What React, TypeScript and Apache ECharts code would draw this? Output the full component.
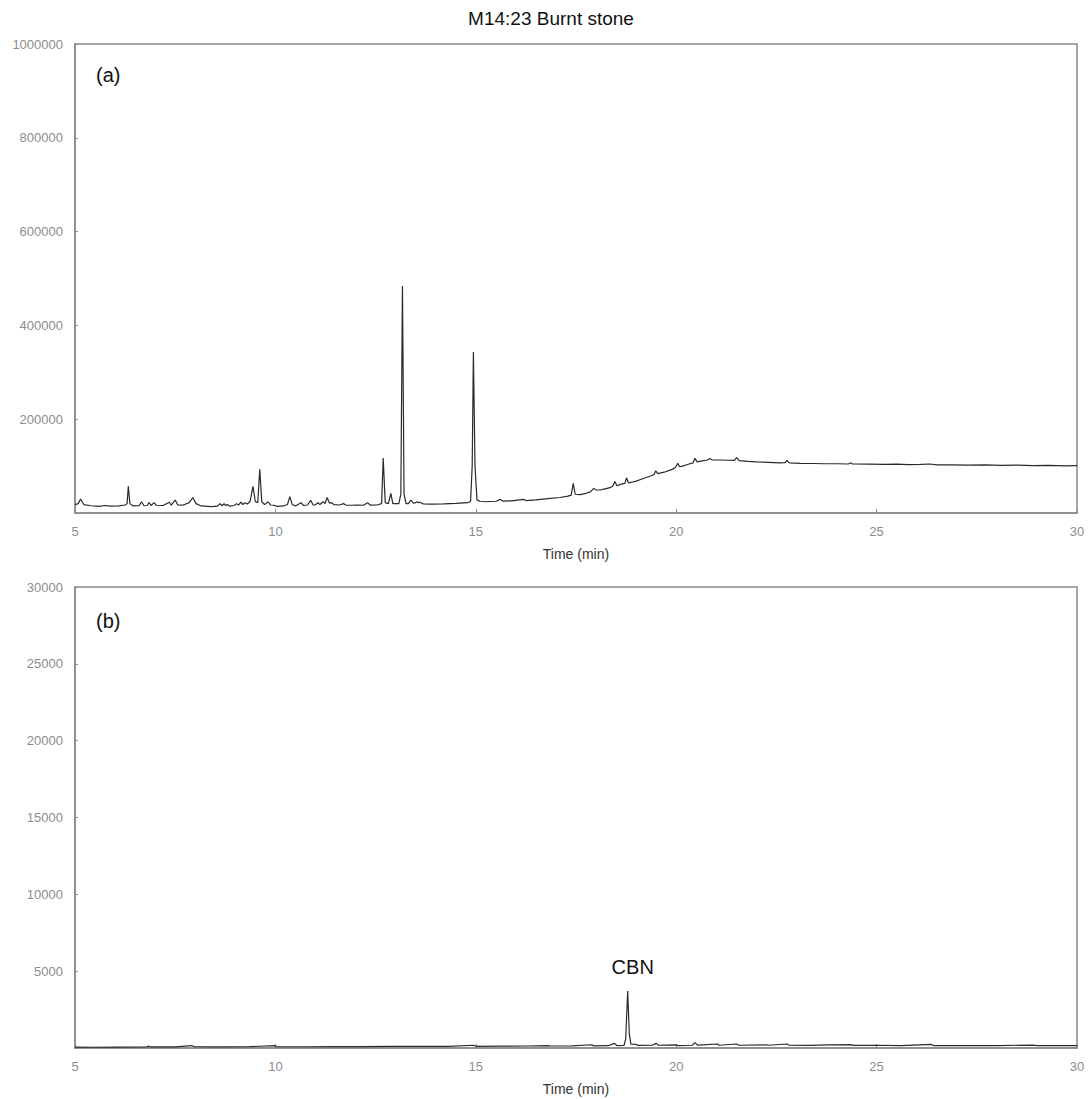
import React, { useEffect, useRef } from "react";
import * as echarts from "echarts";

// Panel (a): total ion chromatogram, retention time (min) and abundance
const TIME_A = [
  5.0, 5.08, 5.14, 5.22, 5.4, 5.6, 5.75, 5.9, 6.1, 6.25, 6.3, 6.33, 6.37, 6.45, 6.6, 6.66, 6.72, 6.8, 6.85, 6.9,
  6.97, 7.03, 7.2, 7.35, 7.4, 7.5, 7.56, 7.7, 7.85, 7.94, 8.02, 8.15, 8.4, 8.55, 8.62, 8.67, 8.72, 8.76, 8.8, 8.86,
  8.97, 9.03, 9.08, 9.14, 9.19, 9.24, 9.3, 9.37, 9.44, 9.5, 9.56, 9.61, 9.66, 9.73, 9.82, 9.88, 9.95, 10.05, 10.2, 10.3,
  10.36, 10.42, 10.5, 10.64, 10.7, 10.8, 10.88, 10.94, 11.0, 11.06, 11.11, 11.19, 11.24, 11.29, 11.35, 11.4, 11.46, 11.6, 11.7, 11.76,
  11.9, 12.05, 12.2, 12.3, 12.36, 12.55, 12.65, 12.69, 12.74, 12.82, 12.88, 12.93, 13.08, 13.13, 13.17, 13.21, 13.26, 13.32, 13.38, 13.44,
  13.5, 13.54, 13.58, 13.61, 13.68, 13.9, 14.2, 14.5, 14.8, 14.87, 14.91, 14.94, 14.98, 15.03, 15.1, 15.25, 15.5, 15.62, 15.67, 15.9,
  16.19, 16.25, 16.5, 16.8, 17.1, 17.3, 17.38, 17.43, 17.48, 17.6, 17.75, 17.81, 17.86, 17.94, 18.0, 18.1, 18.25, 18.35, 18.42, 18.47,
  18.52, 18.65, 18.72, 18.76, 18.81, 19.0, 19.2, 19.4, 19.45, 19.49, 19.54, 19.7, 19.9, 19.98, 20.04, 20.08, 20.16, 20.3, 20.42, 20.47,
  20.52, 20.65, 20.78, 20.84, 20.9, 21.1, 21.3, 21.45, 21.51, 21.57, 21.8, 22.0, 22.3, 22.6, 22.72, 22.76, 22.82, 23.1, 23.4, 23.7,
  24.0, 24.3, 24.35, 24.4, 24.8, 25.2, 25.5, 25.8, 26.1, 26.33, 26.5, 26.9, 27.3, 27.7, 28.1, 28.5, 28.9, 29.3, 29.7, 30.0,
];
const SIGNAL_A = [
  18000, 20000, 30000, 18000, 15500, 14000, 16000, 14500, 15000, 17000, 20000, 57000, 20000, 15000, 15500, 24000, 15500, 16000, 22000, 16000,
  22000, 16500, 16000, 23000, 17000, 27700, 17500, 17000, 22000, 33000, 20000, 15000, 13500, 14500, 20000, 15500, 20000, 16000, 18000, 14500,
  16000, 20000, 17000, 23000, 18000, 22000, 19000, 25000, 57000, 24000, 22000, 93000, 24000, 18000, 24000, 17000, 16500, 14000, 15000, 18000,
  35000, 18000, 15000, 22000, 16000, 17000, 27000, 17000, 17500, 22000, 18000, 24000, 20000, 33000, 21000, 22000, 18000, 17000, 20000, 16500,
  16500, 17000, 16500, 22000, 17000, 17500, 20000, 117000, 22000, 20000, 42000, 20000, 20000, 40000, 484000, 40000, 20000, 20000, 27700, 21000,
  22000, 24000, 22000, 23000, 19500, 19000, 19500, 20500, 22000, 25000, 100000, 343000, 100000, 28000, 25000, 24000, 25000, 29000, 25500, 26000,
  29000, 26500, 28000, 30500, 33000, 36000, 38000, 63000, 40000, 39000, 42000, 44000, 45000, 52500, 49000, 49000, 52000, 54000, 57500, 67000,
  58000, 62000, 63000, 75000, 64000, 68000, 74000, 80000, 82500, 90000, 84000, 87000, 93000, 97000, 106000, 99000, 100000, 104000, 107000, 116500,
  109000, 111000, 113000, 116000, 113000, 113000, 112500, 112000, 118000, 111500, 110000, 109000, 108000, 107000, 107500, 112000, 107000, 106000, 105500, 105000,
  105000, 104500, 107000, 104500, 104000, 103500, 104000, 103000, 103500, 104500, 102500, 102500, 102000, 102500, 101500, 102000, 101000, 101500, 100500, 101000,
];

// Panel (b): extracted ion chromatogram with the cannabinol (CBN) peak
const TIME_B = [
  5.0, 5.5, 6.0, 6.8, 6.83, 6.88, 7.5, 7.91, 7.98, 8.6, 9.3, 9.99, 10.05, 10.8, 11.5, 12.2, 12.9, 13.6, 14.3, 14.95,
  15.0, 15.6, 16.3, 16.8, 16.85, 17.4, 17.89, 17.94, 18.3, 18.46, 18.52, 18.7, 18.74, 18.79, 18.83, 18.87, 19.0, 19.05, 19.4, 19.5,
  19.56, 20.0, 20.04, 20.4, 20.47, 20.53, 21.03, 21.07, 21.51, 21.56, 22.25, 22.3, 22.77, 22.82, 23.3, 23.8, 24.36, 24.42, 25.0, 25.6,
  26.37, 26.42, 27.2, 28.0, 28.9, 29.0, 30.0,
];
const SIGNAL_B = [
  60, 50, 60, 70, 130, 70, 70, 160, 80, 70, 80, 150, 80, 80, 90, 90, 100, 100, 110, 180,
  110, 120, 130, 160, 130, 140, 210, 140, 150, 300, 160, 170, 600, 3700, 900, 250, 230, 170, 180, 300,
  180, 200, 160, 180, 350, 190, 260, 180, 260, 180, 200, 180, 260, 180, 170, 200, 220, 170, 180, 160,
  230, 160, 150, 160, 190, 150, 150,
];

const CBN_TIME = 18.79;
const CBN_SIGNAL = 3700;

const X_TICKS = { min: 5, max: 30, interval: 5 };
const Y_A = { min: 0, max: 1000000, interval: 200000 };
const Y_B = { min: 0, max: 30000, interval: 5000 };

const TITLE = "M14:23 Burnt stone";
const X_NAME = "Time (min)";

const pairs = (xs: number[], ys: number[]) => xs.map((x, i) => [x, ys[i]]);

const FONT = "'Liberation Sans', Arial, sans-serif";
const FRAME = "#8a8a8a";
const LABEL = "#8c8c8c";

function xAxis(gridIndex: number) {
  return {
    type: "value",
    gridIndex,
    ...X_TICKS,
    name: X_NAME,
    nameLocation: "middle",
    nameGap: 34,
    nameTextStyle: { color: "#333", fontSize: 14, fontFamily: FONT },
    axisLine: { show: true, lineStyle: { color: FRAME, width: 1.5 } },
    axisTick: { show: true, inside: true, length: 4, lineStyle: { color: FRAME } },
    axisLabel: { color: LABEL, fontSize: 13, margin: 12, fontFamily: FONT },
    splitLine: { show: false },
  };
}

function yAxis(gridIndex: number, range: { min: number; max: number; interval: number }) {
  return {
    type: "value",
    gridIndex,
    ...range,
    axisLine: { show: true, lineStyle: { color: FRAME, width: 1.5 } },
    axisTick: { show: true, inside: true, length: 3, lineStyle: { color: FRAME } },
    axisLabel: {
      color: LABEL,
      fontSize: 13,
      margin: 12,
      fontFamily: FONT,
      formatter: (v: number) => (v === 0 ? "" : String(v)),
    },
    splitLine: { show: false },
  };
}

export default function App() {
  const ref = useRef<HTMLDivElement>(null);

  useEffect(() => {
    document.body.style.margin = "0";
    if (!ref.current) return;
    const chart = echarts.init(ref.current, null, { renderer: "svg" });
    chart.setOption({
      animation: false,
      backgroundColor: "#ffffff",
      graphic: [
        {
          type: "text",
          x: 551,
          y: 18,
          style: { text: TITLE, fill: "#111", font: `19px ${FONT}`, align: "center", verticalAlign: "middle" },
        },
        { type: "text", left: 96, top: 65, style: { text: "(a)", fill: "#111", font: `20px ${FONT}` } },
        { type: "text", left: 96, top: 611, style: { text: "(b)", fill: "#111", font: `20px ${FONT}` } },
      ],
      grid: [
        { left: 75, right: 13, top: 44, height: 469, show: true, borderColor: FRAME, borderWidth: 1.5 },
        { left: 75, right: 13, top: 587, height: 461, show: true, borderColor: FRAME, borderWidth: 1.5 },
      ],
      xAxis: [xAxis(0), xAxis(1)],
      yAxis: [yAxis(0, Y_A), yAxis(1, Y_B)],
      series: [
        {
          type: "line",
          xAxisIndex: 0,
          yAxisIndex: 0,
          data: pairs(TIME_A, SIGNAL_A),
          showSymbol: false,
          lineStyle: { color: "#2a2a2a", width: 1.2 },
        },
        {
          type: "line",
          xAxisIndex: 1,
          yAxisIndex: 1,
          data: pairs(TIME_B, SIGNAL_B),
          showSymbol: false,
          lineStyle: { color: "#2a2a2a", width: 1.2 },
          markPoint: {
            symbol: "circle",
            symbolSize: 0,
            data: [
              {
                coord: [CBN_TIME, CBN_SIGNAL],
                label: {
                  show: true,
                  formatter: "CBN",
                  position: "top",
                  distance: 14,
                  color: "#111",
                  fontSize: 20,
                  fontFamily: FONT,
                  offset: [5, 0],
                },
              },
            ],
          },
        },
      ],
    });
    return () => chart.dispose();
  }, []);

  return <div ref={ref} style={{ width: 1090, height: 1099 }} />;
}
